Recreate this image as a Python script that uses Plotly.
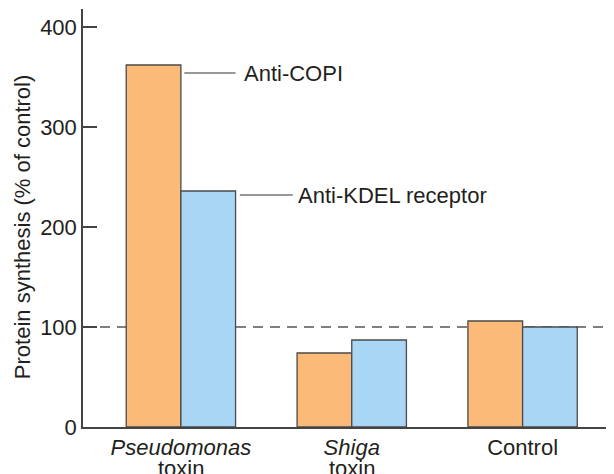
import plotly.graph_objects as go

categories = ["Pseudomonas", "Shiga", "Control"]
italic_name = [True, True, False]
second_line = ["toxin", "toxin", ""]
anti_copi = [362, 74, 106]
anti_kdel = [236, 87, 100]
y_ticks = [0, 100, 200, 300, 400]
series_names = ["Anti-COPI", "Anti-KDEL receptor"]
y_title = "Protein synthesis (% of control)"

FONT = "Liberation Sans"
TXT = "#231f20"
FS = 22
xpos = list(range(len(categories)))
ticktext = [f"<i>{c}</i>" if it else c for c, it in zip(categories, italic_name)]

fig = go.Figure()
fig.add_trace(go.Bar(x=xpos, y=anti_copi, name=series_names[0],
                     marker=dict(color="#fbba77", line=dict(color="#4a4a4a", width=1.3))))
fig.add_trace(go.Bar(x=xpos, y=anti_kdel, name=series_names[1],
                     marker=dict(color="#a9d6f4", line=dict(color="#4a4a4a", width=1.3))))

# dashed reference line at 100 %
fig.add_shape(type="line", xref="paper", x0=0, x1=0.99, yref="y", y0=100, y1=100,
              line=dict(color="#555555", width=1.5, dash="10px,7px"), layer="below")

# labels for the first group
bw = 0.32
fig.add_shape(type="line", xref="x", yref="y", x0=0.02, x1=bw, y0=anti_copi[0] - 8, y1=anti_copi[0] - 8,
              line=dict(color="#333333", width=1))
fig.add_annotation(x=bw + 0.04, y=anti_copi[0] - 8, text=series_names[0], showarrow=False,
                   xanchor="left", yanchor="middle", font=dict(family=FONT, size=FS, color=TXT))
fig.add_shape(type="line", xref="x", yref="y", x0=bw + 0.025, x1=bw + 0.335, y0=anti_kdel[0] - 4, y1=anti_kdel[0] - 4,
              line=dict(color="#333333", width=1))
fig.add_annotation(x=bw + 0.355, y=anti_kdel[0] - 4, text=series_names[1], showarrow=False,
                   xanchor="left", yanchor="middle", font=dict(family=FONT, size=FS, color=TXT))

# second line of category labels
for xi, s in zip(xpos, second_line):
    if s:
        fig.add_annotation(x=xi, y=0, xref="x", yref="paper", text=s, showarrow=False,
                           xanchor="center", yanchor="top", yshift=-27,
                           font=dict(family=FONT, size=FS, color=TXT))

# y-axis title
fig.add_annotation(x=-0.115, y=0.478, xref="paper", yref="paper", text=y_title, showarrow=False,
                   textangle=-90, xanchor="center", yanchor="middle",
                   font=dict(family=FONT, size=FS, color=TXT))

fig.update_layout(
    width=614, height=474,
    margin=dict(l=75, r=8, t=1, b=55, autoexpand=False),
    paper_bgcolor="white", plot_bgcolor="white",
    barmode="group", bargap=0.36, bargroupgap=0,
    showlegend=False,
    font=dict(family=FONT, size=FS, color=TXT),
    xaxis=dict(tickvals=xpos, ticktext=ticktext, range=[-0.573, 2.535], automargin=False,
               showline=True, linecolor="#444444", linewidth=1.5, ticks="",
               showgrid=False, zeroline=False, ticklabelstandoff=0,
               tickfont=dict(family=FONT, size=FS, color=TXT)),
    yaxis=dict(range=[0, 418], tickvals=y_ticks, ticks="inside", ticklen=14, tickwidth=1.5,
               tickcolor="#444444", showline=True, linecolor="#444444", linewidth=1.5,
               showgrid=False, zeroline=False, ticklabelstandoff=0, automargin=False,
               tickfont=dict(family=FONT, size=FS, color=TXT)),
)

fig.write_html("out.html")
